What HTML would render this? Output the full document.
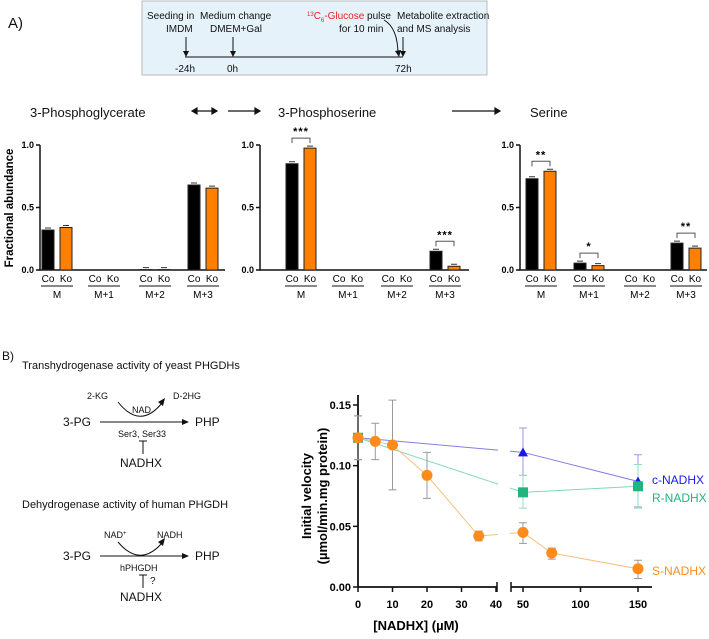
<!DOCTYPE html>
<html><head><meta charset="utf-8"><style>
body{margin:0;background:#fff;}
svg{display:block;font-family:"Liberation Sans",sans-serif;}
</style></head><body>
<svg id="fig" width="709" height="639" viewBox="0 0 709 639">
<g font-size="10" fill="#111">
<text x="8" y="28" font-size="15">A)</text>
<rect x="142" y="1" width="345" height="74" fill="#e5f2fa" stroke="#bbb"/>
<text x="147" y="19">Seeding in</text><text x="166" y="32">IMDM</text>
<text x="200" y="19">Medium change</text><text x="210" y="32">DMEM+Gal</text>
<text x="307" y="19"><tspan fill="#e8261f" font-size="6" dy="-3">13</tspan><tspan fill="#e8261f" dy="3">C</tspan><tspan fill="#e8261f" font-size="6" dy="3">6</tspan><tspan fill="#e8261f" dy="-3">-Glucose</tspan> pulse</text>
<text x="339" y="32">for 10 min</text>
<text x="397" y="19">Metabolite extraction</text><text x="397" y="32">and MS analysis</text>
<line x1="185" y1="57" x2="403" y2="57" stroke="#111"/>
<line x1="186" y1="37" x2="186" y2="55" stroke="#111"/><path d="M183,51 L186,57 L189,51Z"/>
<line x1="233" y1="37" x2="233" y2="55" stroke="#111"/><path d="M230,51 L233,57 L236,51Z"/>
<line x1="403" y1="37" x2="403" y2="55" stroke="#111"/><path d="M400,51 L403,57 L406,51Z"/>
<path d="M384,20 Q398,28 398,55" fill="none" stroke="#111"/><path d="M395,51 L399,57 L401,50Z"/>
<text x="175" y="72">-24h</text><text x="227" y="72">0h</text><text x="395" y="72">72h</text>
</g>
<g font-size="13" fill="#111">
<text x="30" y="117">3-Phosphoglycerate</text>
<g stroke="#111" stroke-width="1.2">
<line x1="192" y1="111" x2="217" y2="111"/><path d="M192,111 l5,-3 v6Z M217,111 l-5,-3 v6Z"/>
<line x1="228" y1="111" x2="260" y2="111"/><path d="M260,111 l-5,-3 v6Z"/>
<line x1="452" y1="111" x2="500" y2="111"/><path d="M500,111 l-5,-3 v6Z"/>
</g>
<text x="278" y="117">3-Phosphoserine</text>
<text x="530" y="117">Serine</text>
</g>
<text transform="translate(13,208) rotate(-90)" text-anchor="middle" font-size="11.5" font-weight="bold">Fractional abundance</text>
<g id="barcharts"></g>
<g font-size="10" fill="#111">
<text x="2" y="360" font-size="12">B)</text>
<text x="22" y="369" font-size="11">Transhydrogenase activity of yeast PHGDHs</text>
<text x="87" y="399" font-size="9">2-KG</text><text x="173" y="399" font-size="9">D-2HG</text>
<text x="132" y="413" font-size="9">NAD</text>
<path d="M118,402 Q140,430 162,403" fill="none" stroke="#111"/><path d="M158,402 L165,398 L163,406Z"/>
<text x="63" y="426" font-size="12">3-PG</text>
<line x1="100" y1="422" x2="183" y2="422" stroke="#111"/><path d="M182,419 L189,422 L182,425Z"/>
<text x="195" y="426" font-size="12">PHP</text>
<text x="118" y="437" font-size="9">Ser3, Ser33</text>
<line x1="143" y1="441" x2="143" y2="454" stroke="#111"/><line x1="139" y1="441" x2="147" y2="441" stroke="#111"/>
<text x="120" y="467" font-size="12">NADHX</text>
<text x="22" y="508" font-size="11">Dehydrogenase activity of human PHGDH</text>
<text x="104" y="538" font-size="9">NAD<tspan font-size="6" dy="-3">+</tspan></text><text x="157" y="538" font-size="9">NADH</text>
<path d="M118,542 Q140,568 162,543" fill="none" stroke="#111"/><path d="M158,542 L165,538 L163,546Z"/>
<text x="63" y="560" font-size="12">3-PG</text>
<line x1="100" y1="556" x2="183" y2="556" stroke="#111"/><path d="M182,553 L189,556 L182,559Z"/>
<text x="195" y="560" font-size="12">PHP</text>
<text x="120" y="571" font-size="9">hPHGDH</text>
<line x1="143" y1="575" x2="143" y2="588" stroke="#111"/><line x1="139" y1="575" x2="147" y2="575" stroke="#111"/>
<text x="150" y="584" font-size="10">?</text>
<text x="120" y="601" font-size="12">NADHX</text>
</g>
<g id="linechart"></g>
</svg>
<script>
// Panel A data
const groups = ["M","M+1","M+2","M+3"];
const pgCo = [0.32,0,0.003,0.68];
const pgKo = [0.34,0,0.003,0.655];
const psCo = [0.85,0,0,0.15];
const psKo = [0.975,0,0,0.03];
const serCo = [0.73,0.055,0,0.215];
const serKo = [0.79,0.035,0,0.175];
const yTicksA = [0,0.5,1.0];
const yTickLabelsA = ["0.0","0.5","1.0"];

// Panel B data
const xTicksL = [0,10,20,30,40];
const xTicksR = [50,100,150];
const yTicksB = [0,0.05,0.10,0.15];
const yTickLabelsB = ["0.00","0.05","0.10","0.15"];
const cX = [0,50,150], cY = [0.123,0.111,0.087], cHi=[0.141,0.131,0.109], cLo=[0.105,0.092,0.066];
const rX = [0,50,150], rY = [0.123,0.078,0.083], rHi=[0.141,0.092,0.101], rLo=[0.105,0.065,0.065];
const sX = [0,5,10,20,35,50,75,150], sY=[0.123,0.120,0.117,0.092,0.042,0.045,0.028,0.015];
const sHi=[0.141,0.135,0.154,0.111,0.046,0.053,0.032,0.022];
const sLo=[0.105,0.105,0.080,0.073,0.038,0.036,0.023,0.007];

const NS="http://www.w3.org/2000/svg";
function mk(parent,tag,attrs,text){const e=document.createElementNS(NS,tag);for(const k in attrs)e.setAttribute(k,attrs[k]);if(text!==undefined)e.textContent=text;parent.appendChild(e);return e;}

const bc=document.getElementById('barcharts');
const charts=[
 {name:'pg',ax:40,end:225,centers:[57,104,155,203],co:pgCo,ko:pgKo,sig:[]},
 {name:'ps',ax:260,end:469,centers:[301,348,397,445],co:psCo,ko:psKo,sig:[[0,'***'],[3,'***']]},
 {name:'ser',ax:520,end:707,centers:[541,589,640,686],co:serCo,ko:serKo,sig:[[0,'**'],[1,'*'],[3,'**']]}
];
const y0=270,y1=145;
function yA(v){return y0-(y0-y1)*v;}
charts.forEach(c=>{
 const g=mk(bc,'g',{});
 
 
 const axis=mk(g,'path',{d:`M${c.ax},${y1} V${y0} H${c.end}`,stroke:'#111','stroke-width':1.5,fill:'none'});
 
 
 yTicksA.forEach((t,i)=>{
  mk(g,'line',{x1:c.ax-4,x2:c.ax,y1:yA(t),y2:yA(t),stroke:'#111','stroke-width':1.5});
  const tl=mk(g,'text',{x:c.ax-6,y:yA(t)+3,'text-anchor':'end','font-size':9,'font-weight':'bold'},yTickLabelsA[i]);
  
  
 });
 groups.forEach((gr,i)=>{
  const cx=c.centers[i];
  [[c.co[i],'#000',cx-15,'Co'],[c.ko[i],'#ff8000',cx+3,'Ko']].forEach(([v,col,x,lab])=>{
   if(v>0){
    const b=mk(g,'rect',{x:x,y:yA(v),width:12,height:y0-yA(v),fill:col,stroke:'#222','stroke-width':1});
    
    
    mk(g,'line',{x1:x+3,x2:x+9,y1:yA(v)-2,y2:yA(v)-2,stroke:'#333'});
   }
   const t=mk(g,'text',{x:x+6,y:282,'text-anchor':'middle','font-size':10},lab);
   
   
  });
  mk(g,'line',{x1:cx-16,x2:cx+16,y1:286,y2:286,stroke:'#111'});
  const gl=mk(g,'text',{x:cx,y:298,'text-anchor':'middle','font-size':10},gr);
  
  
 });
 c.sig.forEach(([i,s])=>{
  const cx=c.centers[i];
  const top=yA(Math.max(c.co[i],c.ko[i]))-10;
  mk(g,'path',{d:`M${cx-9},${top+5} V${top} H${cx+9} V${top+5}`,stroke:'#555',fill:'none'});
  const st=mk(g,'text',{x:cx,y:top-3,'text-anchor':'middle','font-size':11,'font-weight':'bold','letter-spacing':1},s);
  
  
 });
});

// Panel B line chart
const lc=document.getElementById('linechart');


const AX=358,BY=587,TY=405;
function yB(v){return BY-(BY-TY)*v/0.15;}
function xB(v){return v<=40?AX+v*3.45:523+(v-50)*1.15;}
const ax=mk(lc,'path',{d:`M${AX},395 V${BY} H497 M511,${BY} H652`,stroke:'#111','stroke-width':1.8,fill:'none'});


mk(lc,'line',{x1:497,x2:497,y1:BY-5,y2:BY+5,stroke:'#111','stroke-width':1.5});
mk(lc,'line',{x1:511,x2:511,y1:BY-5,y2:BY+5,stroke:'#111','stroke-width':1.5});
yTicksB.forEach((t,i)=>{
 mk(lc,'line',{x1:AX-5,x2:AX,y1:yB(t),y2:yB(t),stroke:'#111','stroke-width':1.5});
 const tl=mk(lc,'text',{x:AX-7,y:yB(t)+4,'text-anchor':'end','font-size':11,'font-weight':'bold'},yTickLabelsB[i]);
 
 
});
xTicksL.concat(xTicksR).forEach(t=>{
 mk(lc,'line',{x1:xB(t),x2:xB(t),y1:BY,y2:BY+5,stroke:'#111','stroke-width':1.5});
 const tl=mk(lc,'text',{x:xB(t),y:608,'text-anchor':'middle','font-size':11,'font-weight':'bold'},String(t));
 
 
});
const xt=mk(lc,'text',{x:416,y:630,'text-anchor':'middle','font-size':13,'font-weight':'bold'},'[NADHX] (µM)');


const yt=mk(lc,'text',{transform:'translate(311,496) rotate(-90)','text-anchor':'middle','font-size':13,'font-weight':'bold'},'Initial velocity');


const yt2=mk(lc,'text',{transform:'translate(327,496) rotate(-90)','text-anchor':'middle','font-size':13,'font-weight':'bold'},'(µmol/min.mg protein)');



const series=[
 {name:'c-nadhx',x:cX,y:cY,hi:cHi,lo:cLo,col:'#1a1ae6',line:'#8080e0',err:'#9a9ae6',shape:'tri',label:'c-NADHX',ly:484},
 {name:'r-nadhx',x:rX,y:rY,hi:rHi,lo:rLo,col:'#1fb57e',line:'#7fd8b8',err:'#8fdcc0',shape:'sq',label:'R-NADHX',ly:502},
 {name:'s-nadhx',x:sX,y:sY,hi:sHi,lo:sLo,col:'#ff8c1a',line:'#f5c080',err:'#999',shape:'circ',label:'S-NADHX',ly:575}
];
series.forEach(s=>{
 const g=mk(lc,'g',{});
 
 
 const pts=s.x.map((v,i)=>xB(v)+','+yB(s.y[i])).join(' ');
 mk(g,'polyline',{points:pts,fill:'none',stroke:s.line,'stroke-width':1});
 s.x.forEach((v,i)=>{
  const px=xB(v);
  mk(g,'path',{d:`M${px},${yB(s.hi[i])} V${yB(s.lo[i])} M${px-4},${yB(s.hi[i])} h8 M${px-4},${yB(s.lo[i])} h8`,stroke:s.err,'stroke-width':1,fill:'none'});
 });
});
mk(lc,'rect',{x:498,y:395,width:12,height:BY-396,fill:'#fff'});
series.forEach(s=>{
 const g=mk(lc,'g',{});
 
 
 s.x.forEach((v,i)=>{
  const px=xB(v),py=yB(s.y[i]);
  let m;
  if(s.shape==='tri')m=mk(g,'path',{d:`M${px},${py-5} L${px+5},${py+4} L${px-5},${py+4}Z`,fill:s.col});
  else if(s.shape==='sq')m=mk(g,'rect',{x:px-5,y:py-5,width:10,height:10,fill:s.col});
  else m=mk(g,'circle',{cx:px,cy:py,r:5.5,fill:s.col});
  
  
 });
 const l=mk(g,'text',{x:652,y:s.ly,'font-size':12,fill:s.col},s.label);
 
 
});
</script>
</body></html>
